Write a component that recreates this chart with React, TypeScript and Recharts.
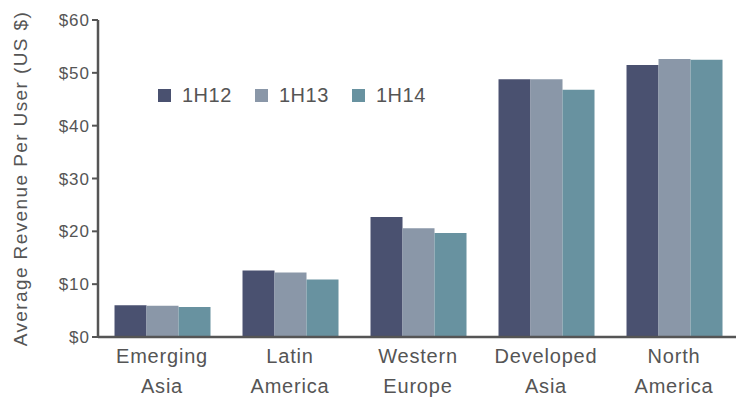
import { Bar, BarChart, XAxis, YAxis, Label } from 'recharts';

const regions = ["Emerging\nAsia", "Latin\nAmerica", "Western\nEurope", "Developed\nAsia", "North\nAmerica"];
const h12 = [6.0, 12.6, 22.7, 48.8, 51.5];
const h13 = [5.9, 12.2, 20.6, 48.8, 52.6];
const h14 = [5.7, 10.9, 19.7, 46.8, 52.5];
const yTicks = [0, 10, 20, 30, 40, 50, 60];

const series = [
  { key: "1H12", color: "#4a5170" },
  { key: "1H13", color: "#8a97a8" },
  { key: "1H14", color: "#6892a0" },
];

const data = regions.map((r, i) => ({ region: r, "1H12": h12[i], "1H13": h13[i], "1H14": h14[i] }));

const RegionTick = (props: any) => {
  const { x, y, payload } = props;
  const lines = String(payload.value).split("\n");
  return (
    <text x={x} y={y} textAnchor="middle" fill="#555" fontSize={20} letterSpacing={0.8}>
      {lines.map((l, i) => (
        <tspan key={i} x={x} dy={i === 0 ? 18 : 30}>{l}</tspan>
      ))}
    </text>
  );
};

const App = () => {
  return (
    <div style={{ fontFamily: "'Liberation Sans', Arial, sans-serif", position: "relative", width: 736, height: 401, overflow: "hidden" }}>
      <style>{`body{margin:0}`}</style>
      <BarChart width={736} height={401} data={data}
        margin={{ top: 20, right: -2, left: 0, bottom: 0 }}
        barCategoryGap="12.9%" barGap={0}>
        <XAxis dataKey="region" height={64} tick={<RegionTick />} tickLine={false}
          axisLine={{ stroke: "#555", strokeWidth: 2.5 }} interval={0} />
        <YAxis width={98} domain={[0, 60]} ticks={yTicks} interval={0}
          tickFormatter={(v: number) => `$${v}`}
          tick={{ fill: "#555", fontSize: 17, letterSpacing: 1 }}
          tickLine={{ stroke: "#555", strokeWidth: 2 }} tickSize={6}
          axisLine={{ stroke: "#555", strokeWidth: 2.5 }}>
          <Label value="Average Revenue Per User (US $)" angle={-90} position="center"
            dx={-29} fill="#555" fontSize={19} letterSpacing={1.4} />
        </YAxis>
        {series.map(s => (
          <Bar key={s.key} dataKey={s.key} fill={s.color} isAnimationActive={false} />
        ))}
      </BarChart>
      <div style={{ position: "absolute", top: 83, left: 158, display: "flex" }}>
        {series.map(s => (
          <div key={s.key} style={{ display: "flex", alignItems: "center", width: 97, height: 24 }}>
            <span style={{ display: "inline-block", width: 13, height: 13, background: s.color, marginRight: 11 }} />
            <span style={{ fontSize: 20, color: "#555", letterSpacing: 0.5 }}>{s.key}</span>
          </div>
        ))}
      </div>
    </div>
  );
};

export default App;
